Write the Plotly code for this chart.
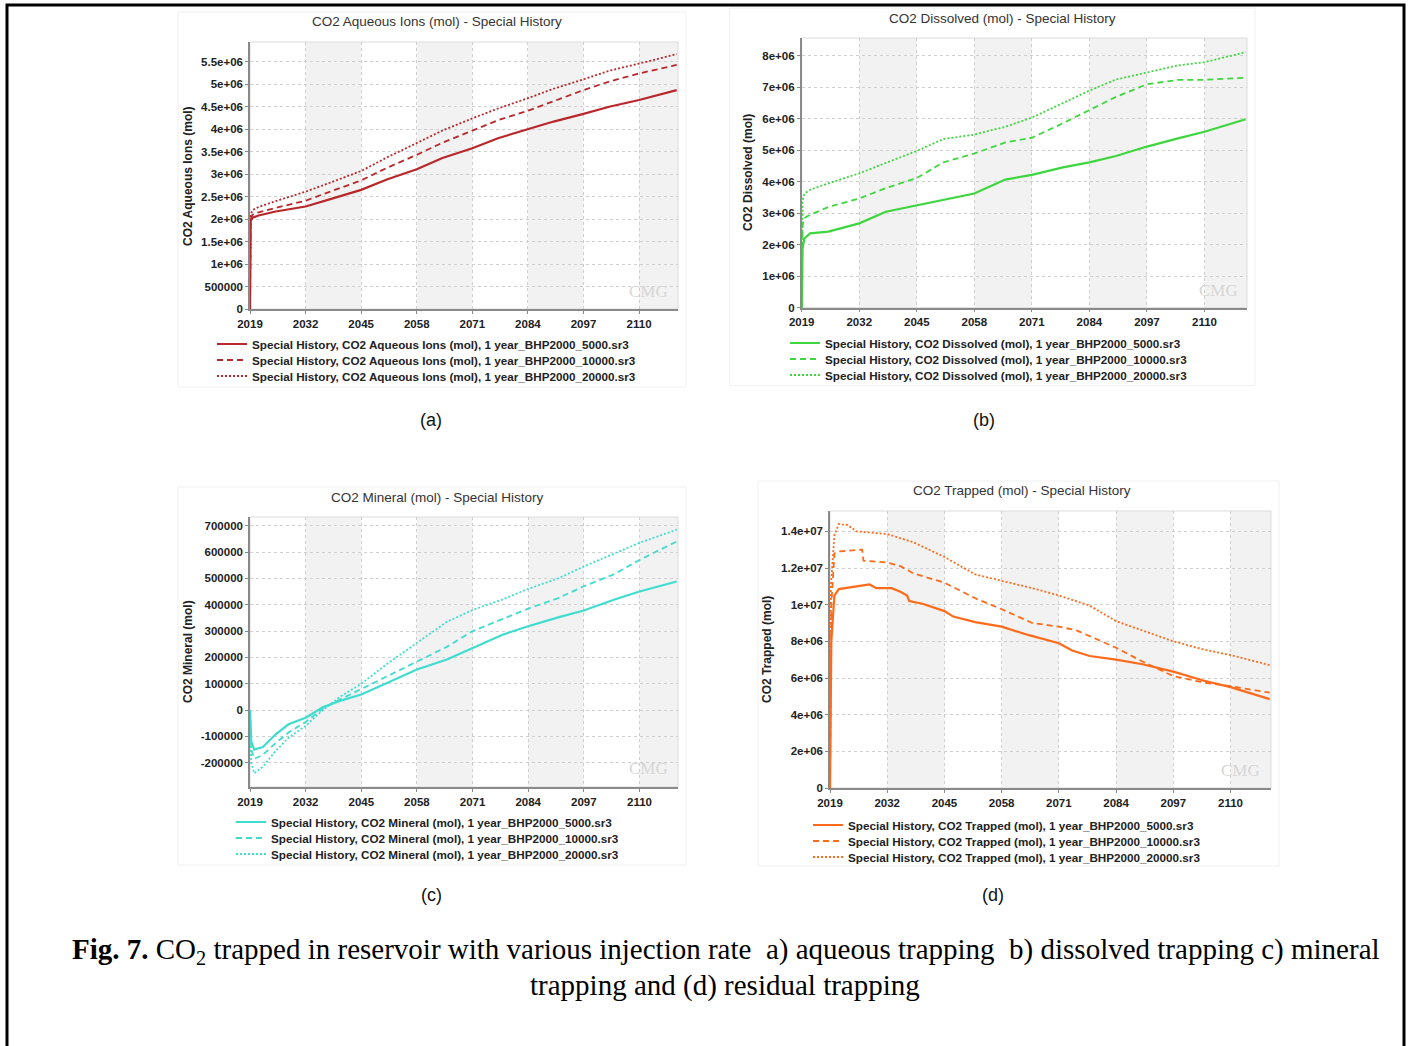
import plotly.graph_objects as go

W, H = 1408, 1046

# ---------------- DATA ----------------
series_labels = ["1 year_BHP2000_5000.sr3", "1 year_BHP2000_10000.sr3", "1 year_BHP2000_20000.sr3"]
x_tick_years = [2019, 2032, 2045, 2058, 2071, 2084, 2097, 2110]

# (a) CO2 Aqueous Ions
a_x = [2019.0, 2019.15, 2019.6, 2021, 2025, 2032, 2038, 2045, 2051, 2058, 2064, 2071, 2077, 2084, 2090, 2097, 2103, 2110, 2118.8]
a_5000 = [0, 1.95e6, 2.03e6, 2.08e6, 2.17e6, 2.28e6, 2.45e6, 2.65e6, 2.88e6, 3.11e6, 3.36e6, 3.575e6, 3.8e6, 4.0e6, 4.17e6, 4.34e6, 4.5e6, 4.65e6, 4.87e6]
a_10000 = [0, 2.0e6, 2.1e6, 2.15e6, 2.25e6, 2.41e6, 2.62e6, 2.86e6, 3.14e6, 3.43e6, 3.7e6, 3.97e6, 4.2e6, 4.41e6, 4.63e6, 4.87e6, 5.06e6, 5.24e6, 5.43e6]
a_20000 = [0, 2.1e6, 2.2e6, 2.27e6, 2.4e6, 2.61e6, 2.82e6, 3.07e6, 3.37e6, 3.69e6, 3.97e6, 4.24e6, 4.46e6, 4.69e6, 4.9e6, 5.11e6, 5.3e6, 5.46e6, 5.67e6]
a_ytickvals = [0, 5e5, 1e6, 1.5e6, 2e6, 2.5e6, 3e6, 3.5e6, 4e6, 4.5e6, 5e6, 5.5e6]
a_yticktext = ["0", "500000", "1e+06", "1.5e+06", "2e+06", "2.5e+06", "3e+06", "3.5e+06", "4e+06", "4.5e+06", "5e+06", "5.5e+06"]

# (b) CO2 Dissolved
b_x = [2019.0, 2019.2, 2019.6, 2020.9, 2025, 2032, 2038, 2045, 2051, 2058, 2065, 2071, 2078, 2084, 2090, 2097, 2104, 2110, 2119.3]
b_5000 = [0, 1.9e6, 2.2e6, 2.36e6, 2.42e6, 2.68e6, 3.05e6, 3.26e6, 3.42e6, 3.63e6, 4.07e6, 4.22e6, 4.46e6, 4.62e6, 4.82e6, 5.12e6, 5.38e6, 5.59e6, 5.99e6]
b_10000 = [0, 2.6e6, 2.85e6, 2.95e6, 3.2e6, 3.47e6, 3.8e6, 4.12e6, 4.62e6, 4.9e6, 5.25e6, 5.4e6, 5.86e6, 6.28e6, 6.7e6, 7.1e6, 7.24e6, 7.24e6, 7.31e6]
b_20000 = [0, 3.4e6, 3.62e6, 3.75e6, 3.95e6, 4.27e6, 4.6e6, 4.98e6, 5.36e6, 5.5e6, 5.75e6, 6.04e6, 6.5e6, 6.9e6, 7.25e6, 7.48e6, 7.7e6, 7.8e6, 8.12e6]
b_ytickvals = [0, 1e6, 2e6, 3e6, 4e6, 5e6, 6e6, 7e6, 8e6]
b_yticktext = ["0", "1e+06", "2e+06", "3e+06", "4e+06", "5e+06", "6e+06", "7e+06", "8e+06"]

# (c) CO2 Mineral
c_x = [2019.0, 2019.3, 2020, 2022, 2025, 2028, 2032, 2036, 2040, 2045, 2051, 2058, 2065, 2071, 2078, 2084, 2091, 2097, 2104, 2110, 2118.7]
c_5000 = [0, -120000, -150000, -140000, -92000, -54000, -29000, 11000, 35000, 59000, 103000, 154000, 192000, 236000, 286000, 318000, 352000, 378000, 419000, 450000, 488000]
c_10000 = [0, -150000, -185000, -170000, -125000, -85000, -45000, 5000, 40000, 80000, 130000, 185000, 240000, 300000, 345000, 385000, 425000, 470000, 515000, 570000, 640000]
c_20000 = [0, -200000, -240000, -215000, -155000, -105000, -60000, 0, 50000, 100000, 175000, 255000, 335000, 380000, 420000, 460000, 500000, 545000, 595000, 635000, 685000]
c_ytickvals = [-200000, -100000, 0, 100000, 200000, 300000, 400000, 500000, 600000, 700000]
c_yticktext = ["-200000", "-100000", "0", "100000", "200000", "300000", "400000", "500000", "600000", "700000"]

# (d) CO2 Trapped
d_x_5000 = [2019.0, 2019.3, 2020, 2021, 2025, 2028, 2029.5, 2033, 2035, 2036.5, 2037, 2040, 2045, 2047, 2052, 2058, 2064, 2071, 2074, 2078, 2084, 2090, 2097, 2104, 2110, 2118.9]
d_5000 = [0, 8e6, 1.05e7, 1.085e7, 1.1e7, 1.11e7, 1.09e7, 1.09e7, 1.07e7, 1.05e7, 1.02e7, 1.005e7, 9.65e6, 9.35e6, 9.05e6, 8.8e6, 8.35e6, 7.9e6, 7.5e6, 7.2e6, 7.0e6, 6.75e6, 6.35e6, 5.85e6, 5.5e6, 4.85e6]
d_x_10000 = [2019.0, 2019.3, 2020, 2021, 2026.3, 2026.6, 2032, 2035, 2038, 2045, 2052, 2058, 2065, 2071, 2075, 2084, 2090, 2097, 2104, 2110, 2118.9]
d_10000 = [0, 1.0e7, 1.28e7, 1.29e7, 1.3e7, 1.24e7, 1.23e7, 1.21e7, 1.17e7, 1.12e7, 1.035e7, 9.75e6, 9.0e6, 8.8e6, 8.6e6, 7.65e6, 6.9e6, 6.1e6, 5.75e6, 5.55e6, 5.2e6]
d_x_20000 = [2019.0, 2019.2, 2020, 2021, 2023, 2025, 2032, 2038, 2045, 2052, 2058, 2065, 2071, 2078, 2084, 2090, 2097, 2104, 2110, 2118.9]
d_20000 = [0, 1.1e7, 1.38e7, 1.44e7, 1.435e7, 1.4e7, 1.385e7, 1.34e7, 1.26e7, 1.165e7, 1.13e7, 1.09e7, 1.05e7, 9.95e6, 9.1e6, 8.6e6, 8.0e6, 7.55e6, 7.25e6, 6.7e6]
d_ytickvals = [0, 2e6, 4e6, 6e6, 8e6, 1e7, 1.2e7, 1.4e7]
d_yticktext = ["0", "2e+06", "4e+06", "6e+06", "8e+06", "1e+07", "1.2e+07", "1.4e+07"]

caption_line1 = "<b>Fig. 7.</b> CO<sub>2</sub> trapped in reservoir with various injection rate  a) aqueous trapping  b) dissolved trapping c) mineral"
caption_line2 = "trapping and (d) residual trapping"

# ---------------- LAYOUT HELPERS ----------------
def px(x):
    return x / W

def py(y):
    return 1 - y / H

FONT = "Liberation Sans, Arial, sans-serif"
dash_styles = ["solid", "6px,4px", "2px,2px"]
widths = [2.2, 1.8, 1.8]

panels = [
    dict(key="", title="CO2 Aqueous Ions (mol) - Special History", qty="CO2 Aqueous Ions (mol)",
         ytitle="CO2 Aqueous Ions (mol)", color="#b8282b",
         xs=[a_x, a_x, a_x], ys=[a_5000, a_10000, a_20000],
         box=(250, 678, 42, 309), yr=[0, 5.94e6], tv=a_ytickvals, tt=a_yticktext,
         title_xy=(437, 21), ytitle_xy=(188, 176), leg_x=212, leg_rows=[344, 360, 376],
         cmg_xy=(648, 292), label="(a)", label_xy=(431, 420)),
    dict(key="2", title="CO2 Dissolved (mol) - Special History", qty="CO2 Dissolved (mol)",
         ytitle="CO2 Dissolved (mol)", color="#3ed63e",
         xs=[b_x, b_x, b_x], ys=[b_5000, b_10000, b_20000],
         box=(801.7, 1247, 38, 307.7), yr=[0, 8.57e6], tv=b_ytickvals, tt=b_yticktext,
         title_xy=(1002, 19), ytitle_xy=(748, 173), leg_x=785, leg_rows=[343, 359, 375],
         cmg_xy=(1218, 290), label="(b)", label_xy=(984, 420)),
    dict(key="3", title="CO2 Mineral (mol) - Special History", qty="CO2 Mineral (mol)",
         ytitle="CO2 Mineral (mol)", color="#40dcd0",
         xs=[c_x, c_x, c_x], ys=[c_5000, c_10000, c_20000],
         box=(250, 678, 517, 787), yr=[-292000, 733000], tv=c_ytickvals, tt=c_yticktext,
         title_xy=(437, 497), ytitle_xy=(188, 652), leg_x=231, leg_rows=[822, 838, 854],
         cmg_xy=(648, 768), label="(c)", label_xy=(431, 895)),
    dict(key="4", title="CO2 Trapped (mol) - Special History", qty="CO2 Trapped (mol)",
         ytitle="CO2 Trapped (mol)", color="#ff6b1a",
         xs=[d_x_5000, d_x_10000, d_x_20000], ys=[d_5000, d_10000, d_20000],
         box=(830, 1271, 511, 788), yr=[0, 1.511e7], tv=d_ytickvals, tt=d_yticktext,
         title_xy=(1022, 490), ytitle_xy=(767, 650), leg_x=808, leg_rows=[825, 841, 857],
         cmg_xy=(1240, 770), label="(d)", label_xy=(993, 895)),
]

fig = go.Figure()
shapes = []
annotations = []
layout = dict(
    width=W, height=H, margin=dict(l=0, r=0, t=0, b=0, autoexpand=False),
    paper_bgcolor="white", plot_bgcolor="rgba(0,0,0,0)", showlegend=True,
    font=dict(family=FONT, color="#222"),
)

legend_counter = 0
for p in panels:
    k = p["key"]
    xa = "x" + k
    ya = "y" + k
    x0, x1, y0, y1 = p["box"]
    for i in range(3):
        legend_counter += 1
        leg = "legend" if legend_counter == 1 else "legend%d" % legend_counter
        fig.add_trace(go.Scatter(
            x=p["xs"][i], y=p["ys"][i], mode="lines",
            name="Special History, " + p["qty"] + ", " + series_labels[i],
            line=dict(color=p["color"], width=widths[i], dash=dash_styles[i]),
            xaxis=xa, yaxis=ya, legend=leg, hoverinfo="x+y",
        ))
        layout[leg] = dict(
            x=px(p["leg_x"]), y=py(p["leg_rows"][i]), xanchor="left", yanchor="middle",
            bgcolor="rgba(0,0,0,0)", borderwidth=0,
            font=dict(family=FONT, size=11.7, color="#222", weight="bold"),
            itemclick=False, itemdoubleclick=False,
        )
    xr = [2019, max(max(s) for s in p["xs"]) + 0.3]
    layout["xaxis" + k] = dict(
        domain=[px(x0), px(x1)], anchor=ya, range=xr,
        tickvals=x_tick_years, ticktext=[str(v) for v in x_tick_years],
        showgrid=True, gridcolor="#cfcfcf", gridwidth=1, griddash="dot",
        showline=True, linecolor="#8a8a8a", linewidth=1.5,
        ticks="outside", ticklen=3, tickcolor="#8a8a8a",
        tickfont=dict(family=FONT, size=11.5, color="#222", weight="bold"),
        zeroline=False, fixedrange=True, automargin=False,
    )
    layout["yaxis" + k] = dict(
        domain=[py(y1), py(y0)], anchor=xa, range=p["yr"],
        tickvals=p["tv"], ticktext=p["tt"],
        showgrid=True, gridcolor="#cfcfcf", gridwidth=1, griddash="dot",
        showline=True, linecolor="#8a8a8a", linewidth=1.5,
        ticks="outside", ticklen=3, tickcolor="#8a8a8a",
        tickfont=dict(family=FONT, size=11.5, color="#222", weight="bold"),
        zeroline=False, fixedrange=True, automargin=False,
    )
    # light panel frame
    shapes.append(dict(type="rect", xref="paper", yref="paper", layer="below",
                       x0=px(x0 - 72), x1=px(x1 + 8), y0=py(y1 + 78), y1=py(y0 - 30),
                       line=dict(color="#f0f0f0", width=1), fillcolor="rgba(0,0,0,0)"))
    # alternating grey bands
    band_edges = x_tick_years + [xr[1]]
    for j in range(1, len(band_edges) - 1, 2):
        shapes.append(dict(type="rect", xref=xa, yref=ya + " domain", layer="below",
                           x0=band_edges[j], x1=band_edges[j + 1], y0=0, y1=1,
                           fillcolor="#f2f2f2", line=dict(width=0)))
    # plot frame (top/right light border)
    shapes.append(dict(type="rect", xref=xa + " domain", yref=ya + " domain", layer="below",
                       x0=0, x1=1, y0=0, y1=1, line=dict(color="#dcdcdc", width=1),
                       fillcolor="rgba(0,0,0,0)"))
    annotations.append(dict(text=p["title"], xref="paper", yref="paper",
                            x=px(p["title_xy"][0]), y=py(p["title_xy"][1]),
                            xanchor="center", yanchor="middle", showarrow=False,
                            font=dict(family=FONT, size=13.5, color="#333")))
    annotations.append(dict(text=p["ytitle"], xref="paper", yref="paper",
                            x=px(p["ytitle_xy"][0]), y=py(p["ytitle_xy"][1]),
                            xanchor="center", yanchor="middle", textangle=-90, showarrow=False,
                            font=dict(family=FONT, size=12, color="#222", weight="bold")))
    annotations.append(dict(text="CMG", xref="paper", yref="paper",
                            x=px(p["cmg_xy"][0]), y=py(p["cmg_xy"][1]),
                            xanchor="center", yanchor="middle", showarrow=False,
                            font=dict(family="Liberation Serif, serif", size=17, color="#d6d6d6")))
    annotations.append(dict(text=p["label"], xref="paper", yref="paper",
                            x=px(p["label_xy"][0]), y=py(p["label_xy"][1]),
                            xanchor="center", yanchor="middle", showarrow=False,
                            font=dict(family=FONT, size=18, color="#111")))

CAP_FONT = dict(family="Liberation Serif, Times New Roman, serif", size=29, color="#000")
annotations.append(dict(text=caption_line1, xref="paper", yref="paper", x=px(725.5), y=py(951),
                        xanchor="center", yanchor="middle", showarrow=False, font=CAP_FONT))
annotations.append(dict(text=caption_line2, xref="paper", yref="paper", x=px(725), y=py(985),
                        xanchor="center", yanchor="middle", showarrow=False, font=CAP_FONT))

# outer border of the figure
shapes.append(dict(type="rect", xref="paper", yref="paper", layer="above",
                   x0=px(7), x1=px(1404), y0=-0.05, y1=py(5),
                   line=dict(color="black", width=3), fillcolor="rgba(0,0,0,0)"))

layout["shapes"] = shapes
layout["annotations"] = annotations
fig.update_layout(**layout)
fig.write_html("out.html")
